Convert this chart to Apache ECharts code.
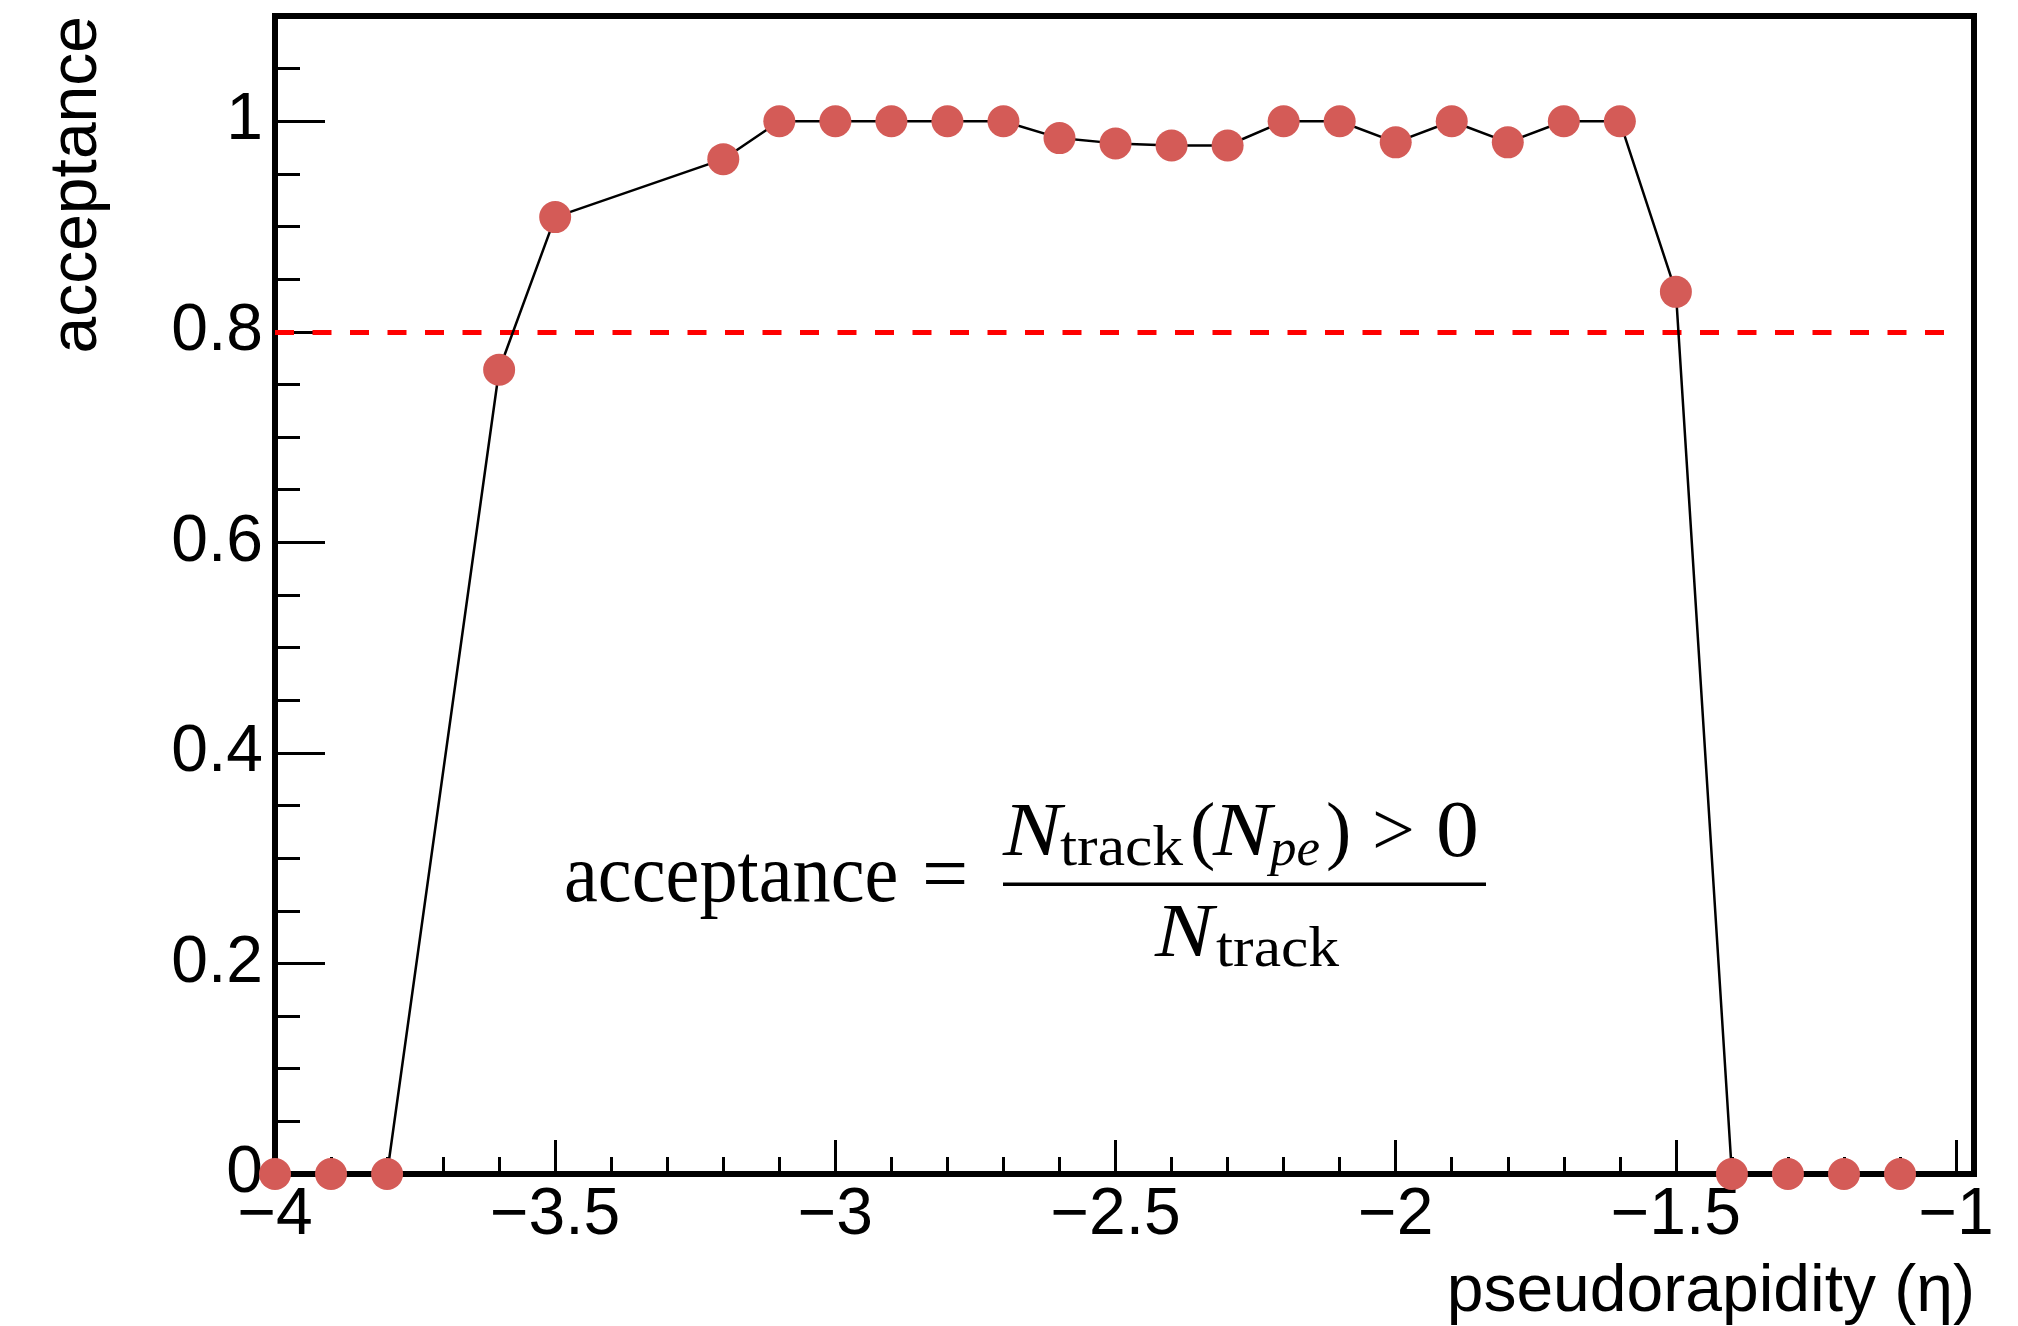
<!DOCTYPE html>
<html>
<head>
<meta charset="utf-8">
<script src="https://cdn.jsdelivr.net/npm/echarts@6/dist/echarts.min.js"></script>
<style>
    html, body {margin:0;padding:0;background:#fff}
    #chart {width:2018px;height:1326px}
</style>
</head>
<body>
<div id="chart"></div>
<script>
    // eta bins (empty bins -3.7, -3.4, -3.3 are absent in the graph)
    var etaValues = [-4.0, -3.9, -3.8, -3.6, -3.5, -3.2, -3.1, -3.0, -2.9, -2.8, -2.7, -2.6, -2.5, -2.4,
                     -2.3, -2.2, -2.1, -2.0, -1.9, -1.8, -1.7, -1.6, -1.5, -1.4, -1.3, -1.2, -1.1];
    var acceptanceValues = [0, 0, 0, 0.764, 0.909, 0.964, 1, 1, 1, 1, 1, 0.984, 0.979, 0.977,
                            0.977, 1, 1, 0.980, 1, 0.980, 1, 1, 0.838, 0, 0, 0, 0];

    var xMajorTicks = [-4, -3.5, -3, -2.5, -2, -1.5, -1];
    var xMinorTicks = [-3.9, -3.8, -3.7, -3.6, -3.4, -3.3, -3.2, -3.1, -2.9, -2.8, -2.7, -2.6,
                       -2.4, -2.3, -2.2, -2.1, -1.9, -1.8, -1.7, -1.6, -1.4, -1.3, -1.2, -1.1];
    var yMajorTicks = [0, 0.2, 0.4, 0.6, 0.8, 1];
    var yMinorTicks = [0.05, 0.1, 0.15, 0.25, 0.3, 0.35, 0.45, 0.5, 0.55, 0.65, 0.7, 0.75,
                       0.85, 0.9, 0.95, 1.05];

    var thresholdValue = 0.8;
    var thresholdFrom = -4;
    var thresholdTo = -1;

    var xMin = -4, xMax = -0.968, yMin = 0, yMax = 1.1;

    var sansFont = '"Liberation Sans", Helvetica, Arial, sans-serif';
    var serifFont = '"Liberation Serif", "Times New Roman", serif';

    var points = etaValues.map(function (x, i) { return [x, acceptanceValues[i]]; });

    function minus(v) { return String(v).replace('-', '\u2212'); }

    // piece of the formula, placed by its left edge and baseline
    function mathText(text, x, baseline, size, italic, sx, sy) {
        sx = sx || 1;
        sy = sy || 1;
        return {
            type: 'text',
            x: x,
            y: baseline - 0.28 * size * sy,
            scaleX: sx,
            scaleY: sy,
            z: 10,
            style: {
                text: text,
                font: (italic ? 'italic ' : '') + size + 'px ' + serifFont,
                fill: '#000',
                align: 'left',
                verticalAlign: 'middle'
            }
        };
    }

    var chart = echarts.init(document.getElementById('chart'));

    var option = {
        animation: false,
        backgroundColor: '#fff',
        grid: {
            left: 275,
            top: 16,
            width: 1699,
            height: 1158,
            show: true,
            borderColor: '#000',
            borderWidth: 6,
            backgroundColor: 'transparent'
        },
        xAxis: [
            {
                type: 'value', min: xMin, max: xMax, position: 'bottom',
                axisLine: {show: false},
                splitLine: {show: false},
                axisTick: {show: true, inside: true, length: 34, customValues: xMajorTicks,
                    lineStyle: {color: '#000', width: 3}},
                axisLabel: {customValues: xMajorTicks, color: '#000', fontSize: 66,
                    fontFamily: sansFont, margin: 9, formatter: minus}
            },
            {
                type: 'value', min: xMin, max: xMax, position: 'bottom',
                axisLine: {show: false},
                splitLine: {show: false},
                axisTick: {show: true, inside: true, length: 17, customValues: xMinorTicks,
                    lineStyle: {color: '#000', width: 3}},
                axisLabel: {show: false}
            }
        ],
        yAxis: [
            {
                type: 'value', min: yMin, max: yMax, position: 'left',
                axisLine: {show: false},
                splitLine: {show: false},
                axisTick: {show: true, inside: true, length: 50, customValues: yMajorTicks,
                    lineStyle: {color: '#000', width: 3}},
                axisLabel: {customValues: yMajorTicks, color: '#000', fontSize: 66,
                    fontFamily: sansFont, margin: 12, formatter: function (v) { return String(v); }}
            },
            {
                type: 'value', min: yMin, max: yMax, position: 'left',
                axisLine: {show: false},
                splitLine: {show: false},
                axisTick: {show: true, inside: true, length: 25, customValues: yMinorTicks,
                    lineStyle: {color: '#000', width: 3}},
                axisLabel: {show: false}
            }
        ],
        series: [
            {
                name: 'acceptance',
                type: 'line',
                xAxisIndex: 0,
                yAxisIndex: 0,
                data: points,
                clip: false,
                symbol: 'circle',
                symbolSize: 32,
                showAllSymbol: true,
                itemStyle: {color: '#d45b57', borderWidth: 0},
                lineStyle: {color: '#000', width: 2.5},
                z: 5,
                markLine: {
                    silent: true,
                    symbol: ['none', 'none'],
                    label: {show: false},
                    lineStyle: {color: '#ff0000', width: 5, type: [19, 18.5], opacity: 1},
                    data: [[{coord: [thresholdFrom, thresholdValue]}, {coord: [thresholdTo, thresholdValue]}]]
                }
            }
        ],
        graphic: [
            {
                type: 'text', x: 78, y: 16, rotation: Math.PI / 2,
                style: {text: 'acceptance', font: '66px ' + sansFont, fill: '#000',
                    align: 'right', verticalAlign: 'middle'}
            },
            {
                type: 'text', x: 1975, y: 1293,
                style: {text: 'pseudorapidity (\u03b7)', font: '66px ' + sansFont, fill: '#000',
                    align: 'right', verticalAlign: 'middle'}
            },
            // acceptance = N_track(N_pe) > 0 / N_track
            mathText('acceptance', 564, 902, 82, false, 0.93, 1),
            mathText('=', 922, 902, 82, false),
            mathText('N', 1003, 856, 76, true, 1.15, 1),
            mathText('track', 1060, 866, 56, false, 1.1, 1),
            mathText('(', 1190, 856, 76, false),
            mathText('N', 1213, 856, 76, true, 1.15, 1),
            mathText('pe', 1270, 866, 53, true),
            mathText(')', 1326, 856, 76, false),
            mathText('>', 1372, 856, 76, false),
            mathText('0', 1436, 857, 78, false, 1.1, 1.02),
            {
                type: 'rect', z: 10,
                shape: {x: 1003, y: 882.5, width: 483, height: 3.5},
                style: {fill: '#000'}
            },
            mathText('N', 1155, 957, 76, true, 1.15, 1),
            mathText('track', 1216, 967, 56, false, 1.1, 1)
        ]
    };

    chart.setOption(option);
</script>
</body>
</html>
